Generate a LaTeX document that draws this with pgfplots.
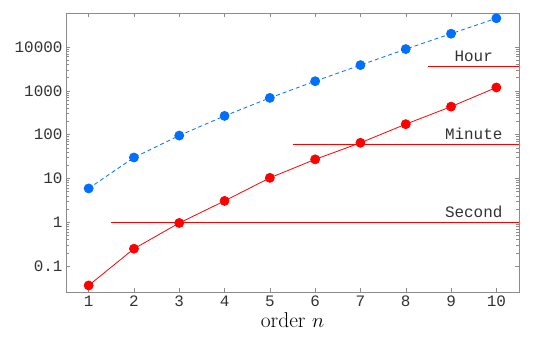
\documentclass[border=0pt]{standalone}
\usepackage{pgfplots}
\pgfplotsset{compat=1.18}
\usepackage{fontspec}
\newfontfamily\monofont{Liberation Mono}
\definecolor{myblue}{RGB}{0,110,255}
\definecolor{myred}{RGB}{255,0,0}
\definecolor{framegray}{RGB}{140,140,140}
\begin{document}
\begin{tikzpicture}
\begin{axis}[
  scale only axis,
  width=453bp, height=279bp,
  ymode=log,
  xmin=0.5, xmax=10.5,
  ymin=0.0255, ymax=59700,
  xtick={1,...,10},
  ytick={0.1,1,10,100,1000,10000},
  yticklabels={0.1,1,10,100,1000,10000},
  minor ytick={},
  log ticks with fixed point,
  tick align=inside,
  tick style={framegray, line width=0.5pt},
  major tick length=4bp,
  axis line style={framegray, line width=0.8pt},
  ticklabel style={font=\monofont\fontsize{16}{18}\selectfont, text=black!80},
  /pgf/number format/assume math mode=true,
  xlabel={\fontsize{21.5}{25}\selectfont order $n$},
  xlabel style={yshift=1bp},
  clip=false,
]
\addplot[myblue, dashed, dash pattern=on 4bp off 3bp, line width=0.8pt, mark=*, mark size=4.5bp, mark options={solid, fill=myblue, draw=myblue}] coordinates {
 (1,5.9) (2,30) (3,95) (4,267) (5,689) (6,1656) (7,3860) (8,8960) (9,20100) (10,45200)
};
\addplot[myred, line width=0.8pt, mark=*, mark size=4.5bp, mark options={solid, fill=myred, draw=myred}] coordinates {
 (1,0.036) (2,0.248) (3,0.96) (4,3.06) (5,10.3) (6,27.2) (7,65) (8,173) (9,435) (10,1190)
};
\addplot[myred, line width=0.8pt] coordinates {(1.5,1) (10.5,1)};
\addplot[myred, line width=0.8pt] coordinates {(5.5,60) (10.5,60)};
\addplot[myred, line width=0.8pt] coordinates {(8.5,3600) (10.5,3600)};
\node[font=\monofont\fontsize{16}{18}\selectfont, anchor=base, text=black!80] at (axis cs:9.5,1) [yshift=5bp] {Second};
\node[font=\monofont\fontsize{16}{18}\selectfont, anchor=base, text=black!80] at (axis cs:9.5,60) [yshift=5bp] {Minute};
\node[font=\monofont\fontsize{16}{18}\selectfont, anchor=base, text=black!80] at (axis cs:9.5,3600) [yshift=5bp] {Hour};
\end{axis}
\path[use as bounding box] (current axis.south west) ++(-66bp,-46bp) rectangle ([xshift=26bp,yshift=13bp]current axis.north east);
\end{tikzpicture}
\end{document}
